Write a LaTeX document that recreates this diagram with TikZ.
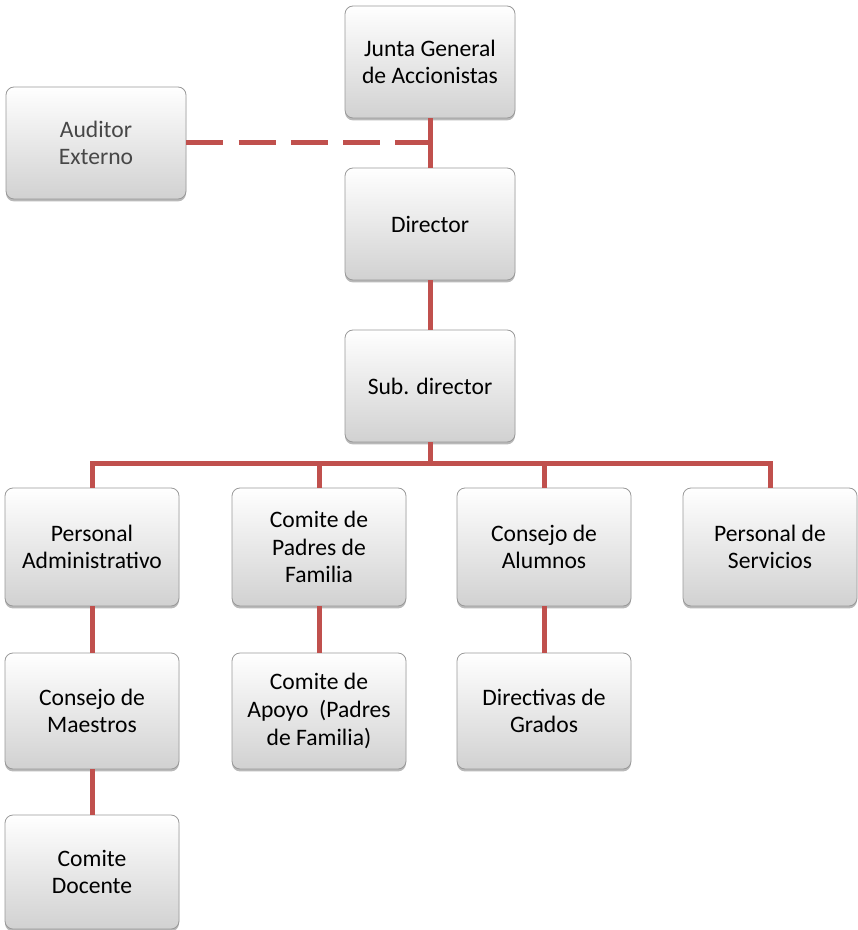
\documentclass[tikz,border=0pt]{standalone}
\usepackage{fontspec}
\setmainfont{Carlito}
\usepackage{tikz}
\usepackage{xcolor}
\usetikzlibrary{shadows}

\definecolor{linkred}{HTML}{C0504D}

\tikzset{
  box/.style={draw=black!40, line width=0.4pt, rounded corners=4pt,
    top color=white, bottom color=black!18, align=center,
    minimum width=87pt, minimum height=57pt, inner sep=2pt,
    font=\fontsize{11.8}{13.8}\selectfont,
    drop shadow={shadow xshift=0pt, shadow yshift=-1.2pt, opacity=0.5, fill=black!55}},
  link/.style={draw=linkred, line width=2.5pt},
}

\begin{document}
\begin{tikzpicture}[x=0.5pt, y=-0.5pt]
\useasboundingbox (0,0) rectangle (857,930);
% top of the chart
\node[box, minimum width=85pt, minimum height=56pt] (junta) at (430,62) {Junta General\\de Accionistas};
\node[box, minimum width=90pt, minimum height=56pt, text=black!72] (aud) at (96,143) {Auditor\\Externo};
\node[box, minimum width=85pt, minimum height=56pt] (dir) at (430,224) {Director};
\node[box, minimum width=85pt, minimum height=56pt] (sub) at (430,386) {Sub. director};
% second level
\node[box, minimum height=59pt] (padm) at (92,547) {Personal\\Administrativo};
\node[box, minimum height=59pt] (cpad) at (319,547) {Comite de\\Padres de\\Familia};
\node[box, minimum height=59pt] (calu) at (544,547) {Consejo de\\Alumnos};
\node[box, minimum height=59pt] (pser) at (770,547) {Personal de\\Servicios};
% third level
\node[box, minimum height=58pt] (cmae) at (92,711) {Consejo de\\Maestros};
\node[box, minimum height=58pt] (capo) at (319,711) {Comite de\\Apoyo~ (Padres\\de Familia)};
\node[box, minimum height=58pt] (dgra) at (544,711) {Directivas de\\Grados};
\node[box, minimum height=57pt] (cdoc) at (92,872) {Comite\\Docente};

\coordinate (mid) at (430,143);
\coordinate (bus) at (430,463);

% connectors
\draw[link] (junta) -- (dir);
\draw[link, dash pattern=on 18.5pt off 7.6pt] (aud.east) -- (mid);
\draw[link] (dir) -- (sub);
\draw[link] (sub) -- (bus);
\draw[link] (bus) -| (padm.north);
\draw[link] (bus) -| (cpad.north);
\draw[link] (bus) -| (calu.north);
\draw[link] (bus) -| (pser.north);
\draw[link] (padm) -- (cmae);
\draw[link] (cmae) -- (cdoc);
\draw[link] (cpad) -- (capo);
\draw[link] (calu) -- (dgra);
\end{tikzpicture}
\end{document}
